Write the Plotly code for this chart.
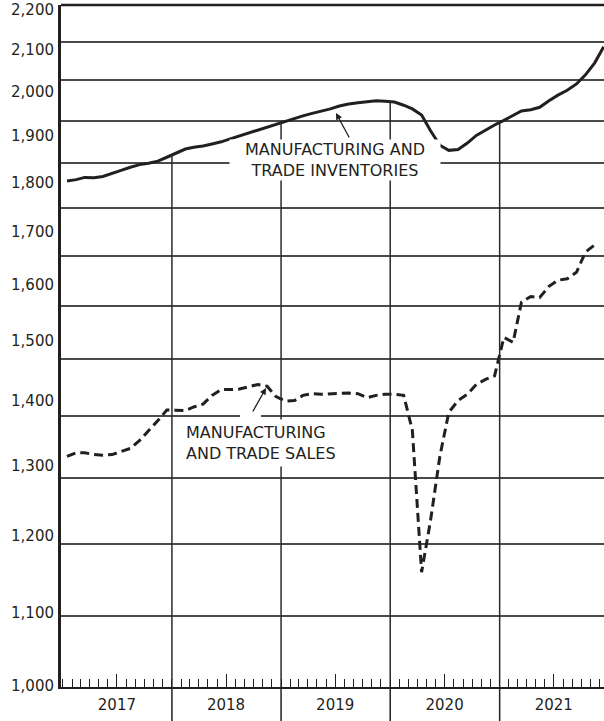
import math
import plotly.graph_objects as go

# ---------------- data ----------------
years = [2017, 2018, 2019, 2020, 2021]
year_labels = ["2017", "2018", "2019", "2020", "2021"]

# monthly values, billions of dollars (Jan 2017 ...)
inventories = [1860, 1863, 1868, 1867, 1870, 1878, 1884, 1891, 1897, 1900, 1905, 1914,
               1923, 1933, 1937, 1940, 1945, 1950, 1957, 1964, 1971, 1978, 1985, 1992,
               2000, 2007, 2012, 2018, 2023, 2029, 2036, 2041, 2044, 2046, 2049, 2048,
               2046, 2038, 2029, 2014, 1976, 1942, 1930, 1932, 1947, 1965, 1978, 1990,
               2001, 2013, 2024, 2027, 2033, 2049, 2063, 2075, 2091, 2114, 2145, 2187]
sales = [1334, 1340, 1340, 1337, 1336, 1337, 1342, 1347, 1360, 1376, 1393, 1411,
         1410, 1410, 1416, 1421, 1436, 1446, 1446, 1447, 1451, 1455, 1452, 1434,
         1426, 1427, 1436, 1439, 1438, 1439, 1439, 1440, 1439, 1432, 1436, 1438,
         1438, 1436, 1377, 1160, 1235, 1334, 1407, 1427, 1438, 1455, 1464, 1470,
         1540, 1531, 1607, 1618, 1616, 1638, 1650, 1653, 1666, 1707, 1722]

grid_values = [1100, 1200, 1300, 1400, 1500, 1600, 1700, 1800, 1900, 2000, 2100, 2200]
y_labels = ["1,000", "1,100", "1,200", "1,300", "1,400", "1,500", "1,600",
            "1,700", "1,800", "1,900", "2,000", "2,100", "2,200"]

months = [f"{y}-{m:02d}-15" for y in years for m in range(1, 13)]

# ---------------- geometry / style ----------------
W, H = 604, 721
L, R, T, B = 61, 0, 5, 34
PW, PH = W - L - R, H - T - B
INK = "#231f20"
FONT = "DejaVu Sans"
Y_LO, Y_HI = 1010, 2300
Y_RANGE = [math.log10(Y_LO), math.log10(Y_HI)]


def px_x(X):
    return (X - L) / PW


def px_y(Y):
    return (H - B - Y) / PH


# labels on the original are spread evenly in value over the log scale
label_vals = [max(Y_LO * 1.001, 997 + 107.4 * k) for k in range(len(y_labels))]

fig = go.Figure()

fig.add_trace(go.Scatter(x=months[:len(inventories)], y=inventories, mode="lines",
                         line=dict(color=INK, width=3), showlegend=False,
                         name="Manufacturing and trade inventories"))
fig.add_trace(go.Scatter(x=months[:len(sales)], y=sales, mode="lines",
                         line=dict(color=INK, width=3, dash="9px,5px"), showlegend=False,
                         name="Manufacturing and trade sales"))

# year divider lines, from the axis up to the inventories curve (drawn on the label axis,
# which has the same scale as the main one)
vx, vy = [], []
for y in years[1:]:
    i = 12 * (y - years[0])
    top = (inventories[i - 1] + inventories[i]) / 2
    vx += [f"{y}-01-01", f"{y}-01-01", None]
    vy += [Y_LO, top, None]
fig.add_trace(go.Scatter(x=vx, y=vy, mode="lines", line=dict(color="#2b2b2b", width=1.5),
                         hoverinfo="skip", showlegend=False, yaxis="y2"))

shapes = [
    dict(type="line", xref="paper", yref="paper", x0=0, x1=1, y0=1, y1=1,
         line=dict(color=INK, width=2.5)),
    dict(type="rect", xref="paper", yref="paper", x0=px_x(240), x1=px_x(261),
         y0=px_y(422), y1=px_y(414), fillcolor="white", line=dict(width=0), layer="above"),
]
for y in years[1:]:
    shapes.append(dict(type="line", xref="x", yref="paper", x0=f"{y}-01-01", x1=f"{y}-01-01",
                       y0=0, y1=-B / PH, line=dict(color=INK, width=1.5)))

annotations = [
    dict(xref="paper", yref="paper", x=px_x(335), y=px_y(160),
         text="MANUFACTURING AND<br>TRADE INVENTORIES", showarrow=False,
         font=dict(family=FONT, size=16, color=INK), bgcolor="white",
         width=210, borderpad=0, align="center", xanchor="center", yanchor="middle"),
    dict(xref="paper", yref="paper", x=px_x(182), y=px_y(443),
         text="MANUFACTURING<br>AND TRADE SALES", showarrow=False,
         font=dict(family=FONT, size=16, color=INK), bgcolor="white",
         width=154, borderpad=3, align="left", xanchor="left", yanchor="middle"),
    dict(xref="paper", yref="paper", x=px_x(336), y=px_y(113), text="",
         showarrow=True, ax=14, ay=26, arrowhead=2, arrowsize=1, arrowwidth=1.3,
         arrowcolor=INK),
    dict(xref="paper", yref="paper", x=px_x(266), y=px_y(388), text="",
         showarrow=True, ax=-14, ay=25, arrowhead=2, arrowsize=1, arrowwidth=1.3,
         arrowcolor=INK),
]

fig.update_layout(
    width=W, height=H,
    margin=dict(l=L, r=R, t=T, b=B),
    paper_bgcolor="white", plot_bgcolor="white",
    showlegend=False,
    shapes=shapes,
    annotations=annotations,
    xaxis=dict(
        type="date", range=["2016-12-26", "2021-12-16"],
        tickmode="array", tickvals=[f"{y}-07-01" for y in years], ticktext=year_labels,
        ticks="inside", ticklen=13, tickwidth=1.3, tickcolor=INK,
        ticklabelstandoff=3,
        tickfont=dict(family=FONT, size=15, color=INK),
        showline=True, linecolor=INK, linewidth=2, showgrid=False, zeroline=False,
        minor=dict(ticks="inside", ticklen=8, tickwidth=1.3, tickcolor=INK,
                   dtick="M1", tick0="2017-01-01", showgrid=False),
    ),
    yaxis=dict(
        type="log", range=Y_RANGE,
        tickmode="array", tickvals=grid_values, showticklabels=False, ticks="",
        showgrid=True, gridcolor="#4a4a4a", gridwidth=1.5,
        showline=True, linecolor=INK, linewidth=2.5, zeroline=False,
    ),
    yaxis2=dict(
        overlaying="y", side="left", anchor="x",
        type="log", range=Y_RANGE,
        tickmode="array", tickvals=label_vals, ticktext=y_labels, ticks="",
        ticklabelstandoff=6,
        tickfont=dict(family=FONT, size=15, color=INK),
        showgrid=False, showline=False, zeroline=False,
    ),
)

fig.write_html("out.html", config={"displayModeBar": False},
               post_script="document.body.style.margin='0';")
